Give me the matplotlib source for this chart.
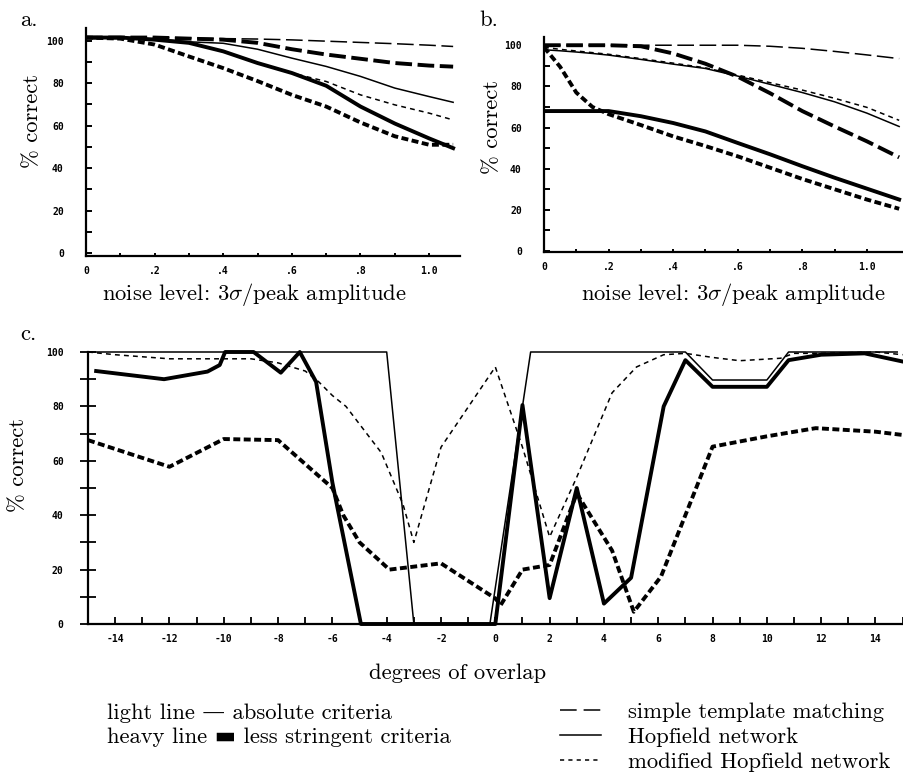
import matplotlib
matplotlib.use('Agg')
import matplotlib.pyplot as plt
from matplotlib.lines import Line2D

plt.rcParams['font.family'] = ['cmr10', 'DejaVu Serif']
plt.rcParams['mathtext.fontset'] = 'cm'
plt.rcParams['lines.scale_dashes'] = False

# ---- panel a: noise, absolute / less stringent ----
a_x = [0, .1, .2, .3, .4, .5, .6, .7, .8, .9, 1.0, 1.07]
a_tmpl_light = [101.5, 101.5, 101.5, 101.3, 101, 100.8, 100.4, 99.8, 99.2, 98.6, 97.9, 97.3]
a_tmpl_heavy = [101.5, 101.5, 101.5, 101, 100.5, 99, 96, 93.5, 91.5, 89.5, 88.3, 87.8]
a_hop_light = [101.5, 101.5, 101, 99.5, 98.8, 96, 91.8, 87.9, 83.2, 77.7, 73.7, 71]
a_hop_heavy = [101.5, 101.5, 100.5, 99, 95, 89.5, 84.8, 78.8, 69, 61, 54, 49.4]
a_mod_light = [101.5, 101.5, 100.5, 99, 95, 89.5, 84.8, 80.8, 74.5, 69.8, 65.9, 62.7]
a_mod_heavy = [101.5, 101, 98.2, 92.6, 87.1, 81, 74.5, 69, 61.5, 55, 51, 51]

# ---- panel b ----
b_x = [0, .05, .1, .15, .2, .3, .4, .5, .6, .7, .8, .9, 1.0, 1.1]
b_tmpl_light = [100, 100, 100, 100, 100, 100, 100, 100, 100, 99.5, 98.5, 97, 95.3, 93.5]
b_tmpl_heavy = [100, 100, 100, 100, 100, 99.5, 96, 91, 84.7, 76.7, 68, 60.5, 53.3, 45.5]
b_hop_light = [97.8, 97.3, 96.7, 96, 95.2, 93.1, 90.8, 88.7, 85, 81, 77, 72.5, 67, 60.5]
b_hop_heavy = [68, 68, 68, 68, 68, 65.5, 62.2, 58.1, 52.5, 47, 41.2, 35.6, 30.3, 25]
b_mod_light = [99, 98, 97.2, 96.4, 95.6, 93.5, 91.3, 89, 85.5, 81.8, 78.2, 74.2, 69.8, 63.5]
b_mod_heavy = [99, 89.5, 77, 70, 66.5, 61.2, 55.7, 51, 46, 40.5, 35, 30, 25, 20.5]

# ---- panel c: degrees of overlap ----
c_hop_light_x = [-15, -4, -3, -0.2, 1.3, 7, 8, 10, 10.8, 14.8]
c_hop_light = [100, 100, 0, 0, 100, 100, 89.7, 89.7, 100, 100]
c_hop_heavy_x = [-14.7, -12.2, -10.6, -10.15, -9.95, -8.9, -7.9, -7.2, -6.6, -6, -4.95,
                 0, 1, 2, 3, 4, 5, 6.2, 7, 8, 10, 10.8, 12, 13.6, 15]
c_hop_heavy = [93, 90, 92.8, 95.2, 100, 100, 92.4, 100, 89, 52, 0,
               0, 80.5, 9.5, 50, 7.5, 17, 80, 97, 87.2, 87.2, 97, 99, 99.5, 96.5]
c_mod_light_x = [-15, -14, -12, -10, -9, -8, -7, -6.5, -6, -5.5, -4.2, -3.4, -3, -2, 0,
                 1, 2, 3, 4.3, 5.2, 6.2, 7, 8, 9, 10.5, 11, 12, 14, 15]
c_mod_light = [100, 99, 97.5, 97.5, 97.5, 96, 93, 89, 84, 80, 63, 44, 30, 65, 94.5,
               65, 32, 54, 85, 94.5, 99, 99.5, 98, 96.8, 97.7, 99.5, 99.5, 100, 99]
c_mod_heavy_x = [-15, -12, -10, -8, -6, -5.6, -5, -3.9, -2, 0, 0.2, 1, 2, 3, 4.3, 5.1,
                 6.1, 8, 10, 11.8, 14, 15]
c_mod_heavy = [67.6, 57.8, 68, 67.6, 50, 40, 30, 20, 22.3, 9.4, 7, 20, 21.7, 48, 27, 4.5,
               17.4, 65.2, 69, 72, 70.7, 69.5]

LONG = (0, (12, 4))
SHORT_THIN = (0, (3.5, 3))
SHORT_HEAVY = (0, (5, 2.5))
THIN = 1.1
HEAVY = 2.8
FS = 16.3
tick_font = dict(family='DejaVu Sans Mono', weight='bold', size=7)

fig = plt.figure(figsize=(9.04, 7.76), dpi=100)


def style_noise_axes(ax, xmax, ymin, ymax):
    for s in ('top', 'right'):
        ax.spines[s].set_visible(False)
    for s in ('left', 'bottom'):
        ax.spines[s].set_linewidth(1.6)
    ax.set_xlim(0, xmax)
    ax.set_ylim(ymin, ymax)
    ax.set_xticks([0, .2, .4, .6, .8, 1.0])
    ax.set_xticklabels(['0', '.2', '.4', '.6', '.8', '1.0'], **tick_font)
    ax.set_xticks([.1, .3, .5, .7, .9], minor=True)
    ax.set_yticks([0, 20, 40, 60, 80, 100])
    ax.set_yticklabels(['0', '20', '40', '60', '80', '100'], **tick_font)
    ax.set_yticks([10, 30, 50, 70, 90], minor=True)
    ax.tick_params(axis='y', which='both', direction='in', length=4, width=1.4, pad=16)
    ax.tick_params(axis='x', which='both', direction='in', length=2, width=1.4, pad=7)


def draw_noise(ax, x, tl, th, hl, hh, ml, mh):
    ax.plot(x, tl, color='k', lw=THIN, ls=LONG)
    ax.plot(x, th, color='k', lw=HEAVY, ls=LONG)
    ax.plot(x, hl, color='k', lw=THIN)
    ax.plot(x, hh, color='k', lw=HEAVY)
    ax.plot(x, ml, color='k', lw=THIN, ls=SHORT_THIN)
    ax.plot(x, mh, color='k', lw=HEAVY, ls=SHORT_HEAVY)


# panel a
ax_a = fig.add_axes([86 / 904, 1 - 256 / 776, 374 / 904, 228 / 776])
draw_noise(ax_a, a_x, a_tmpl_light, a_tmpl_heavy, a_hop_light, a_hop_heavy,
           a_mod_light, a_mod_heavy)
style_noise_axes(ax_a, 1.09, -1.4, 106)
ax_a.set_ylabel('% correct', fontsize=FS)
ax_a.yaxis.set_label_coords(-0.118, 0.59)
ax_a.set_xlabel(r'noise level: 3$\sigma$/peak amplitude', fontsize=FS)
ax_a.xaxis.set_label_coords(0.449, -0.11)
fig.text(20 / 904, 1 - 20 / 776, 'a.', fontsize=FS, va='center')

# panel b
ax_b = fig.add_axes([544 / 904, 1 - 252 / 776, 360 / 904, 215 / 776])
draw_noise(ax_b, b_x, b_tmpl_light, b_tmpl_heavy, b_hop_light, b_hop_heavy,
           b_mod_light, b_mod_heavy)
style_noise_axes(ax_b, 1.115, -0.5, 104)
ax_b.set_ylabel('% correct', fontsize=FS)
ax_b.yaxis.set_label_coords(-0.117, 0.58)
ax_b.set_xlabel(r'noise level: 3$\sigma$/peak amplitude', fontsize=FS)
ax_b.xaxis.set_label_coords(0.526, -0.137)
fig.text(479 / 904, 1 - 20 / 776, 'b.', fontsize=FS, va='center')

# panel c
ax_c = fig.add_axes([88 / 904, 1 - 624 / 776, 816 / 904, 272 / 776])
ax_c.plot(c_hop_light_x, c_hop_light, color='k', lw=THIN, clip_on=False)
ax_c.plot(c_hop_heavy_x, c_hop_heavy, color='k', lw=HEAVY, clip_on=False)
ax_c.plot(c_mod_light_x, c_mod_light, color='k', lw=THIN, ls=SHORT_THIN, clip_on=False)
ax_c.plot(c_mod_heavy_x, c_mod_heavy, color='k', lw=HEAVY, ls=SHORT_HEAVY, clip_on=False)
for s in ('top', 'right'):
    ax_c.spines[s].set_visible(False)
for s in ('left', 'bottom'):
    ax_c.spines[s].set_linewidth(1.6)
ax_c.set_xlim(-15, 15.05)
ax_c.set_ylim(0, 100)
ax_c.set_xticks(range(-14, 16, 2))
ax_c.set_xticklabels([str(v) for v in range(-14, 16, 2)], **tick_font)
ax_c.set_xticks(range(-15, 16, 2), minor=True)
ax_c.set_yticks([0, 20, 40, 60, 80, 100])
ax_c.set_yticklabels(['0', '20', '40', '60', '80', '100'], **tick_font)
ax_c.set_yticks([10, 30, 50, 70, 90], minor=True)
ax_c.tick_params(axis='x', which='both', direction='in', length=5, width=1.3, pad=7)
ax_c.tick_params(axis='y', which='both', direction='inout', length=11, width=1.3, pad=12)
ax_c.set_ylabel('% correct', fontsize=FS)
ax_c.yaxis.set_label_coords(-0.0735, 0.585)
ax_c.set_xlabel('degrees of overlap', fontsize=FS)
ax_c.xaxis.set_label_coords(0.453, -0.145)
fig.text(20 / 904, 1 - 334 / 776, 'c.', fontsize=FS, va='center')

# key
fig.text(107 / 904, 1 - 713 / 776, 'light line \u2014 absolute criteria', fontsize=FS,
         va='center')
fig.text(107 / 904, 1 - 737 / 776, 'heavy line \u25ac less stringent criteria', fontsize=FS,
         va='center', family=['cmr10', 'DejaVu Sans'])
handles = [Line2D([], [], color='k', lw=THIN, ls=(0, (12, 5))),
           Line2D([], [], color='k', lw=THIN),
           Line2D([], [], color='k', lw=THIN, ls=(0, (3, 3)))]
fig.legend(handles, ['simple template matching', 'Hopfield network',
                     'modified Hopfield network'],
           loc='upper left', bbox_to_anchor=(560 / 904, 1 - 702 / 776),
           frameon=False, fontsize=FS, handlelength=1.8, handletextpad=1.2,
           labelspacing=0.22, borderpad=0, borderaxespad=0)

fig.savefig('out.png', dpi=100)
